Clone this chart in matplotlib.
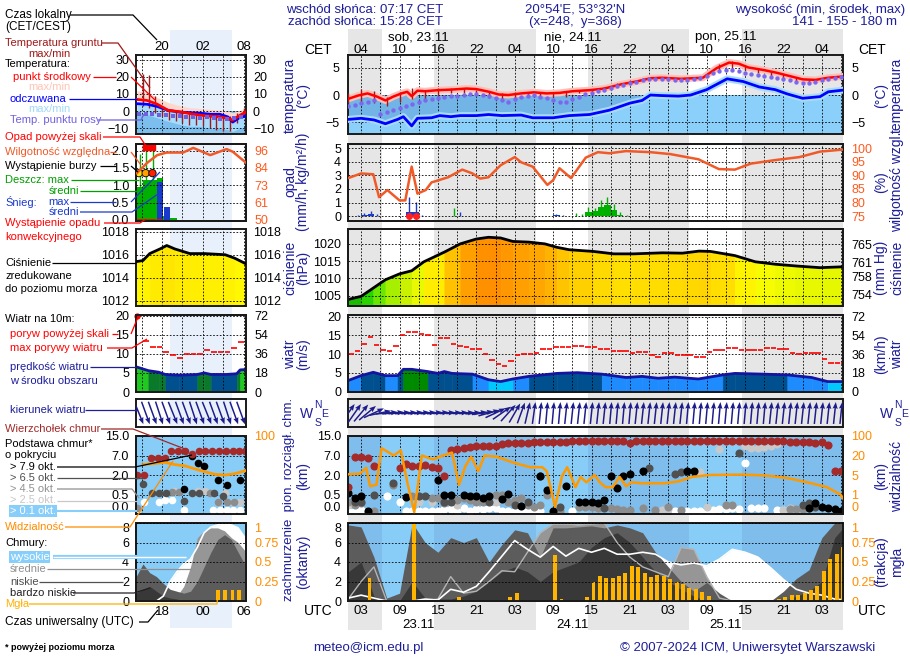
import numpy as np
import matplotlib
matplotlib.use("Agg")
import matplotlib.pyplot as plt
from matplotlib.colors import LinearSegmentedColormap, ListedColormap, BoundaryNorm

plt.rcParams['font.family'] = ['Liberation Sans', 'DejaVu Sans']
plt.rcParams['font.size'] = 9

nan = np.nan
NAVY = '#1e1e9a'

# ==========================================
# DATA - main meteogram (hours since 23.11 00 UTC)
# ==========================================
hours = np.arange(1, 79)

temp_t = [1, 2.5, 4, 5.5, 6.8, 8, 9.3, 10.2, 10.9, 11.8, 13, 15, 17, 19.5, 21, 23, 24.5, 26, 28, 30,
          32, 34, 36, 38.7, 41, 43.7, 46, 48.2, 50, 53, 56.4, 58.6, 60.5, 62, 63.5, 66, 68, 70, 72, 74, 76, 79]
temp_v = [-0.7, -0.1, 0.3, -0.3, -1.0, -0.3, 0.3, 0.6, -0.2, 0.8, 0.7, 0.9, 1.0, 1.2, 1.1, 0.6, 0.1, 0.0, 0.3, 0.5,
          0.3, 0.4, 0.7, 0.9, 1.2, 2.0, 2.5, 3.1, 3.2, 3.0, 3.2, 5.0, 6.0, 5.8, 5.1, 4.6, 4.1, 3.5, 2.9, 2.8, 3.2, 3.5]

perc_t = [1, 3, 5, 6.8, 8.7, 9.6, 10.9, 11.8, 14, 15.3, 17, 18.5, 21, 22.9, 25, 28, 29.8, 33, 35.5, 38.7,
          41.8, 45, 46.9, 48.2, 50, 52.6, 54.5, 57, 60.2, 62.7, 65.2, 67.7, 69.6, 72, 74.7, 76, 79]
perc_v = [-4.5, -4.3, -4.6, -5.3, -4.5, -4.0, -5.7, -4.3, -4.2, -3.8, -4.0, -3.8, -3.8, -3.6, -3.8, -3.7, -4.2, -4.2, -3.8, -3.6,
          -2.8, -1.5, -1.0, 0.0, -0.1, -0.2, 0.0, 1.0, 3.0, 2.5, 1.5, 1.0, 0.2, -0.6, -0.3, 0.6, 1.0]

dew = [-2.1, -1.8, -1.5, -1.2, -1.0, -3.5, -3.2, -2.8, -2.4, -2.0,
       -1.6, -1.2, -0.9, -0.7, -0.5, -0.3, -0.2, -0.1, 0.0, 0.1,
       0.1, 0.0, -0.2, -0.5, -1.0, -1.2, -0.8, -0.4, -0.2, 0.0,
       -0.3, -0.6, -1.0, -1.3, -1.2, -0.8, -0.3, 0.1, 0.4, 0.7,
       1.0, 1.3, 1.6, 1.9, 2.2, 2.5, 2.7, 2.9, 3.0, 3.0,
       2.9, 2.8, 2.8, 2.8, 2.9, 3.1, 3.5, 4.0, 4.5, 4.7,
       4.6, 4.4, 4.1, 3.9, 3.7, 3.5, 3.3, 3.1, 2.9, 2.7,
       2.5, 2.3, 2.3, 2.5, 2.8, 3.0, 3.2, 3.4]

gt_t = np.arange(1, 79, 2)
gt_max = [0.3, 1.2, 0.8, -0.3, 0.5, 1.3, 1.0, 1.3, 1.3, 1.2, 1.0, 0.6, 0.3, 0.5, 0.6, 0.6, 0.5, 0.6, 0.9, 1.0,
          1.5, 2.2, 2.8, 3.2, 3.2, 3.0, 3.0, 3.1, 3.8, 5.8, 6.2, 5.6, 5.0, 4.4, 3.8, 3.2, 2.8, 3.0, 3.5]
gt_min = [-1.5, -1.2, -1.5, -2.0, -1.2, -0.8, -1.0, -0.3, 0.3, 0.3, 0.2, -0.5, -0.8, -0.5, -0.2, -0.2, -0.4, -0.3, 0.3, 0.5,
          1.0, 1.7, 2.4, 2.7, 2.7, 2.6, 2.7, 2.8, 3.4, 4.4, 5.0, 4.6, 4.0, 3.6, 3.0, 2.4, 2.2, 2.6, 3.0]

rh_t = [1, 3, 4.9, 5.8, 7.1, 9, 9.9, 10.9, 11.8, 13.1, 14, 16.6, 18.8, 20.4, 21.6, 22.9, 24.8, 27, 28, 29.8,
        32.1, 33, 34, 35.8, 38.1, 40, 41.8, 44.4, 48.2, 51.3, 55.7, 58.9, 61.4, 63.9, 67.7, 71.5, 74.7, 79]
rh_v = [89, 90.7, 90.4, 82, 84.6, 80.8, 80.8, 93.2, 83.3, 84.6, 87.4, 89.3, 92.1, 90.7, 88.8, 89.3, 93.7, 96.7, 94.8, 93.2,
        86.5, 88.2, 92.6, 89, 96.5, 98.5, 98.1, 98.9, 98.5, 97.8, 95.9, 92.3, 92.1, 94.3, 95.6, 96.7, 98.7, 99.6]

rain_h = np.array([17, 36, 37, 38, 39, 40, 41, 42, 43, 44])
rain_mean = [0.03, 0.02, 0.05, 0.3, 0.35, 0.65, 0.8, 0.45, 0.1, 0.03]
rain_max = [0.6, 0.25, 0.15, 0.7, 0.6, 1.2, 1.4, 0.9, 0.3, 0.1]
snow_h = np.array([2, 3, 4, 5, 10, 11, 12, 18, 33, 34])
snow_mean = [0.05, 0.1, 0.15, 0.05, 0.3, 0.3, 0.05, 0.05, 0.1, 0.05]
snow_max = [0.1, 0.25, 0.4, 0.2, 1.4, 1.05, 0.1, 0.3, 0.15, 0.1]
conv_h = np.array([10, 11])

p_t = [1, 3, 4.9, 6.8, 9, 10.9, 12.8, 16, 18.5, 21, 22.9, 24.8, 26.7, 29.2, 31.7, 33.6, 35.5, 39.3, 42.5, 45.6,
       50.1, 53.2, 55.8, 57.6, 61.4, 64.6, 67.7, 70.9, 74.7, 79]
p_v = [1003.9, 1004.8, 1007.2, 1009.6, 1011.3, 1012.2, 1014.8, 1017.6, 1020, 1021.4, 1021.9, 1021.7, 1020.7, 1020.5,
       1020, 1019, 1018.3, 1017.8, 1017.1, 1017.1, 1017.4, 1017.3, 1017.9, 1017.8, 1016.6, 1014.8, 1014.1, 1013.6,
       1013.1, 1013.4]

w_t = [1, 3, 4.9, 6.8, 8.7, 9.6, 10.9, 13.4, 15, 16, 17.2, 20.4, 22.9, 24.8, 26.7, 29.2, 33.6, 36.8, 40.6, 44.4,
       46.9, 49.4, 52, 55.7, 59.5, 61.4, 65.9, 69.6, 73.4, 75.9, 79]
w_v = [2.9, 4.2, 5.1, 4.2, 4.2, 5.9, 5.9, 5.3, 4.8, 5.3, 4.8, 4.6, 3.1, 2.6, 3.3, 4.0, 4.8, 5.0, 4.6, 3.7,
       4.0, 3.5, 3.8, 3.3, 4.4, 4.8, 4.6, 4.4, 3.7, 2.6, 2.6]
gust = [10.0, 10.7, 12.6, 14.5, 12.4, 11.2, 10.8, 12.2, 15.0, 16.0,
        15.8, 15.4, 15.0, 12.5, 14.3, 14.3, 12.8, 12.3, 11.9, 11.3,
        11.3, 10.0, 8.4, 7.3, 6.8, 8.1, 9.7, 10.0, 10.0, 10.4,
        11.3, 11.3, 12.0, 12.0, 11.9, 12.3, 12.3, 11.9, 11.9, 11.3,
        11.3, 10.8, 10.8, 10.8, 10.2, 10.6, 10.6, 9.7, 9.3, 10.2,
        10.2, 9.7, 9.7, 9.7, 9.3, 9.3, 10.6, 11.0, 11.2, 11.7,
        11.5, 11.0, 11.2, 11.2, 11.2, 11.6, 11.6, 11.3, 11.3, 10.4,
        10.0, 10.2, 10.2, 10.2, 8.8, 7.6, 7.5, 7.5]
wdir = [215, 215, 220, 230, 245, 258, 265, 265, 266, 266,
        266, 266, 266, 266, 266, 267, 267, 267, 267, 267,
        265, 262, 255, 245, 235, 222, 210, 200, 193, 188,
        186, 185, 185, 185, 186, 186, 186, 186, 186, 186,
        186, 185, 185, 185, 185, 186, 186, 186, 186, 186,
        186, 186, 186, 185, 185, 185, 185, 185, 185, 185,
        185, 185, 185, 185, 185, 185, 186, 186, 186, 186,
        186, 186, 186, 186, 186, 186, 186, 186]

cb_top = [1.1, 6.6, 6.5, 6.3, 4.2, nan, nan, nan, 3.9, 4.9,
          4.3, 4.3, 4.6, 4.1, 3.9, 1.9, 9.3, 9.6, 10.0, 10.3,
          11.0, 11.0, 11.0, 11.0, 11.7, 12.0, 12.0, 12.0, 12.0, 12.4,
          12.4, 12.4, 12.4, 12.4, 12.4, 12.8, 12.8, 12.8, 12.8, 12.8,
          12.8, 12.8, 12.8, 12.8, 12.0, 12.8, 12.8, 12.8, 12.8, 12.8,
          12.8, 12.8, 12.8, 12.8, 12.8, 12.8, 12.8, 12.8, 12.8, 12.8,
          12.8, 12.8, 12.8, 12.8, 12.8, 12.8, 12.8, 12.8, 12.8, 12.4,
          12.4, 12.4, 12.4, 12.0, 12.4, 11.5, 3.0, 3.0]
cb_black = [0.6, 0.42, 0.45, 0.08, nan, nan, nan, nan, nan, 0.44,
            nan, nan, nan, nan, 1.65, 0.5, 0.5, nan, 0.5, 0.45,
            0.45, 0.41, 0.45, nan, 0.38, 0.55, nan, 0.2, nan, nan,
            1.9, 0.87, 0.08, nan, 1.13, nan, 0.32, 0.32, 0.32, 0.28,
            0.36, 1.9, 1.0, 1.9, 2.3, nan, 3.0, nan, nan, nan,
            nan, nan, nan, 3.0, 3.0, nan, nan, nan, nan, nan,
            nan, nan, nan, nan, nan, nan, nan, nan, nan, nan,
            nan, nan, 0.16, 0.28, 0.19, 0.16, 0.13, 0.08]
cb_dgray = [nan, 0.32, 0.32, nan, 0.5, nan, nan, 1.4, nan, nan,
            nan, 0.45, 0.45, nan, nan, 0.32, 0.32, nan, nan, nan,
            nan, nan, 0.32, nan, nan, nan, 0.23, nan, 0.32, nan,
            1.9, nan, nan, 0.19, nan, nan, nan, nan, nan, nan,
            0.16, nan, nan, nan, nan, nan, nan, 3.7, nan, nan,
            nan, 2.3, 2.8, nan, nan, nan, nan, nan, nan, nan,
            nan, 8.2, nan, nan, nan, nan, nan, nan, nan, nan,
            nan, 0.23, 0.28, 0.19, nan, nan, nan, nan]
cb_gray = [0.32, 0.23, 0.28, nan, 0.08, nan, nan, 1.25, nan, nan,
           0.45, nan, nan, 0.41, 0.41, 0.28, nan, 0.36, 0.41, 0.36,
           0.32, 0.32, nan, 0.5, 0.5, 0.32, 0.36, 0.41, 0.23, 0.19,
           0.23, 0.5, nan, 0.08, nan, nan, 0.19, 0.19, 0.19, 0.16,
           nan, 0.16, 0.13, 0.1, 0.1, nan, 0.16, nan, 0.1, nan,
           0.19, nan, 0.1, nan, nan, nan, nan, nan, nan, 0.23,
           0.23, nan, nan, nan, nan, nan, nan, nan, nan, 0.13,
           0.13, 0.13, 0.16, nan, nan, nan, nan, nan]
cb_lgray = [0.23, nan, nan, nan, nan, nan, nan, nan, nan, nan,
            nan, 0.32, nan, 0.32, nan, nan, nan, 0.23, nan, nan,
            nan, nan, nan, 0.32, nan, nan, 0.28, nan, nan, nan,
            nan, nan, nan, nan, nan, nan, nan, nan, nan, nan,
            nan, nan, nan, nan, nan, nan, nan, nan, nan, 0.1,
            0.13, nan, nan, nan, nan, 2.8, 0.19, nan, 9.6, nan,
            nan, nan, 11.0, 10.0, 10.0, 10.5, 11.0, 11.7, 0.1, 0.16,
            0.13, nan, nan, nan, nan, nan, nan, nan]
cb_white = [0.08, 0.08, 0.1, nan, nan, nan, 0.45, nan, 0.32, 0.08,
            0.08, 0.08, 0.08, 0.08, 0.08, 0.13, 0.13, 0.08, 0.16, 0.08,
            0.13, 0.13, 0.16, 0.16, 0.08, 0.08, 0.08, 0.08, 0.08, 0.08,
            0.08, nan, nan, nan, nan, 0.08, nan, nan, nan, nan,
            nan, nan, nan, nan, nan, nan, nan, nan, nan, nan,
            nan, 0.08, nan, 0.08, 0.08, 0.08, 0.08, 0.1, 0.13, 0.13,
            0.16, 0.13, 5.2, 0.16, 0.16, 0.16, nan, 0.1, 0.1, nan,
            nan, nan, nan, nan, nan, nan, nan, nan]

vis_t = [1, 2.8, 3.8, 4.4, 5.4, 6.2, 8.1, 9.2, 10.3, 11.3, 12.5, 14.2, 15.8, 17.2, 18.3, 19.3, 20.2, 21.3, 22.3, 24.2,
         26.8, 29.4, 31.3, 32.0, 33.3, 34.4, 35.2, 36.5, 37.3, 38.2, 39.5, 40.3, 41.2, 42.3, 43.4, 44.4, 45.2, 46.8,
         50.5, 52.6, 54.7, 57.4, 62.6, 66.3, 69.5, 72.7, 75.8, 77.9, 79]
vis_v = [5.5, 6, 10.5, 2.7, 3, 50, 20, 41, 3, 0.1, 20, 17, 20, 32, 3, 12, 19, 8, 20, 19,
         14.5, 11, 11, 8, 0.37, 4.8, 11, 2.5, 4.6, 3.5, 5, 3.5, 2.5, 2.5, 4.6, 2.7, 3.5, 3.3,
         3.3, 3.7, 4.6, 5.0, 5.3, 4.9, 4.4, 3.5, 2.5, 1.0, 0.47]

cl_t = np.arange(1, 80, 2)
cl_high = [0.3, 0.6, 0.3, 0, 0, 0, 0.2, 0.1, 1.2, 0.9, 1.5, 3.0, 4.6, 6.2, 5.3, 4.5, 5.6, 4.6, 5.4, 5.0,
           5.4, 4.8, 4.8, 5.0, 4.8, 4.0, 3.7, 3.9, 3.6, 4.3, 5.3, 5.0, 4.5, 3.4, 2.2, 1.2, 0.8, 0.6, 0.2, 0.1]
cl_mid = [0.2, 2.0, 3.5, 0, 0, 0, 0, 0.2, 2.5, 0.8, 1.0, 2.0, 3.1, 3.0, 5.0, 7.0, 7.9, 7.9, 7.8, 7.9,
          8.0, 6.0, 4.5, 3.5, 3.0, 2.5, 5.5, 5.3, 2.5, 0.3, 0, 0, 0, 0, 0, 0, 0, 0, 0, 0]
cl_low = [7.8, 7.6, 4.5, 0.3, 0.8, 8.0, 6.0, 5.0, 6.5, 6.0, 6.5, 4.0, 5.8, 7.3, 7.0, 4.5, 7.5, 7.5, 7.6, 7.7,
          7.5, 7.8, 7.5, 7.0, 5.0, 3.5, 2.0, 1.0, 1.9, 0.8, 0, 0, 0, 0, 1.0, 2.3, 3.2, 6.5, 8.0, 8.0]
cl_vlow = [3.0, 4.0, 0.5, 0, 0, 2.0, 0.3, 0.2, 0.2, 0.5, 1.0, 2.0, 3.0, 3.5, 3.0, 2.0, 3.0, 3.5, 4.0, 5.5,
           6.5, 7.0, 6.0, 4.5, 3.0, 2.0, 1.2, 0.5, 0, 0, 0, 0, 0, 0, 0, 0.5, 1.0, 2.0, 6.5, 8.0]
fog = [0, 0, 0, 0.3, 0, 0, 0, 0, 0, 0,
       1.0, 0, 0, 0, 0, 0, 0, 0.05, 0, 0,
       0, 0, 0, 0, 0, 0.05, 0.1, 0, 0, 0,
       0, 0, 0.59, 0.02, 0, 0, 0, 0.05, 0.25, 0.32,
       0.3, 0.3, 0.32, 0.36, 0.45, 0.43, 0.36, 0.31, 0.33, 0.32,
       0.28, 0.24, 0.22, 0.17, 0.15, 0.11, 0.06, 0, 0, 0,
       0, 0, 0, 0, 0, 0, 0, 0.03, 0.05, 0.08,
       0.08, 0.1, 0.14, 0.19, 0.39, 0.54, 0.6, 0.69]

# ==========================================
# DATA - legend mini meteogram (local hours)
# ==========================================
mini_t = [16.3, 17.8, 19.3, 20.9, 22.7, 24.1, 25.6, 27.1, 28.5, 29.7, 30.4, 31.5, 32.4]
mini_temp = [6.8, 6.2, 4.0, 0.4, -0.5, -1.5, -2.4, -3.0, -3.4, -4.3, -5.4, -2.4, -0.5]
mini_tmax = [12, 11, 8, 5, 3, 2, 1.5, 1, 0.5, 0, -1, 0.5, 1.5]
mini_perc = [4.3, 4.0, 2.7, 0.4, -0.7, -1.0, -1.3, -1.9, -1.9, -3.5, -6.5, -3.6, -3.0]
mini_pmin = [-1, -2, -4, -6, -8, -9, -9, -10, -10, -11, -12, -10, -9]
mini_dew_h = [16.6, 17.6, 18.6, 19.6, 20.6, 21.6, 22.6, 23.6, 24.6, 25.6, 26.6, 27.6, 28.6, 29.6, 30.6, 31.6]
mini_dew = [-1.9, -1.9, -2.0, -2.4, -2.6, -3.0, -3.2, -3.3, -3.6, -4.0, -3.8, -4.2, -4.4, -4.6, -4.0, -3.5]
mini_gt_h = [17.2, 18.1, 19.0, 20.0, 21.0, 22.0, 23.0, 24.0, 25.0, 26.0, 27.0, 28.0, 29.0, 30.0, 31.0, 32.0]
mini_gt_max = [22, 21, 9, 3, 1, 0.5, 0.5, 0, 0, -0.5, -1, -1.5, -2, -3, -1, 2]
mini_gt_min = [3, 2, -1, -3, -5, -6, -7, -8, -8, -9, -10, -11, -12, -12, -7, -3]

mini_rh_t = [16.3, 17.8, 19.3, 20.7, 23.1, 24.6, 27.1, 29.5, 30.4, 32.4]
mini_rh = [81, 87.8, 93, 94.7, 94.7, 97.8, 93, 97, 95.3, 87.8]
mini_rain_h = [16.2, 17.2, 18.2, 19.2, 20.2, 21.2]
mini_rain = [0.95, 1.15, 1.15, 1.2, 0.1, 0.05]
mini_rmax_h = [16.7, 17.7, 18.7]
mini_rmax = [1.9, 2.1, 2.1]
mini_snow_h = [19.3, 20.3]
mini_snow = [1.1, 0.37]
mini_storm_h = [16.6, 17.6, 18.6]
mini_storm_lvl = [1, 2, 3]
mini_over_h = [17.6, 18.6]
mini_conv_h = [16.6, 17.6, 18.6, 19.6]

mini_p_t = [16.2, 17.2, 18.2, 19.7, 20.7, 21.9, 24.1, 26.3, 29.3, 30.7, 32.4]
mini_p = [1015.4, 1015.5, 1016.1, 1016.5, 1016.8, 1016.5, 1016.1, 1016.1, 1016.0, 1015.7, 1015.2]

mini_w_t = [16.2, 18.0, 19.5, 20.5, 22.5, 25.2, 26.2, 27.2, 29.5, 31.0, 31.5, 32.4]
mini_w = [6.6, 5.6, 5.2, 4.6, 4.4, 4.6, 5.0, 4.6, 4.6, 4.8, 5.8, 5.9]
mini_gust_h = [17.2, 18.2, 19.2, 20.2, 21.2, 22.2, 23.2, 24.2, 25.2, 26.2, 27.2, 28.2, 29.2, 30.2, 31.2]
mini_gust = [13.5, 11.8, 11.8, 10.5, 9.6, 8.8, 10.1, 10.1, 10.1, 10.9, 10.5, 10.5, 10.5, 11.5, 13.0]
mini_gust_over = [16.4]
mini_dir_h = [16.6, 17.6, 18.6, 19.6, 20.6, 21.6, 22.6, 23.6, 24.6, 25.6, 26.6, 27.6, 28.6, 29.6, 30.6, 31.6]
mini_dir = [338, 340, 340, 342, 340, 338, 340, 340, 342, 340, 338, 340, 340, 342, 340, 340]

mini_top_h = [16.4, 17.4, 18.4, 19.4, 20.4, 21.4, 22.4, 23.4, 24.4, 25.4, 26.4, 27.4, 28.4, 29.4, 30.4, 31.4, 32.2]
mini_top = [2.0, 2.0, 6.3, 6.3, 6.3, 8.9, 8.9, 8.9, 7.5, 8.9, 8.9, 8.9, 8.9, 8.9, 8.9, 8.9, 8.9]
mini_black_h = [23.2, 24.4, 25.3, 26.2, 28.3, 29.6, 31.5]
mini_black = [0.9, 6.9, 5.0, 4.2, 1.6, 1.2, 1.6]
mini_dgray_h = [17.2, 18.5, 19.5, 20.6, 23.2, 24.4, 25.4, 27.6, 29.0]
mini_dgray = [1.3, 0.6, 0.6, 0.6, 0.34, 0.62, 0.62, 0.6, 0.45]
mini_gray_h = [16.4, 21.5, 22.5, 27.0, 28.3, 29.6, 30.6]
mini_gray = [0.15, 0.7, 0.7, 0.65, 0.3, 0.3, 0.3]
mini_lgray_h = [21.8, 25.3, 26.3, 28.3, 29.3, 30.5, 31.5]
mini_lgray = [0.75, 0.75, 0.75, 0.3, 0.6, 0.3, 0.3]
mini_white_h = [16.4, 17.3, 19.5, 20.5, 21.5, 23.2, 27.5, 28.5, 29.5, 30.5, 31.5]
mini_white = [0.1, 0.3, 0.3, 0.35, 0.35, 0.1, 0.1, 0.1, 0.1, 0.1, 0.1]
mini_vis_t = [17.2, 20.4, 21.9, 23.4, 25.6, 27.8, 29.3, 30.7, 32.4]
mini_vis = [13, 14.7, 13, 12, 8.5, 5.5, 5, 6, 8.5]

mini_cl_h = [16.2, 17.2, 18.2, 19.2, 20.2, 21.2, 22.2, 23.2, 24.2, 25.2, 26.2, 27.2, 28.2, 29.2, 30.2, 31.2, 32.4]
mini_high = [0, 0, 0, 0, 0.5, 2.0, 3.0, 3.8, 4.3, 5.5, 7.0, 7.6, 7.8, 7.9, 7.8, 7.5, 6.3]
mini_mid = [0, 0, 0, 0, 0, 0, 0.5, 1.5, 3.5, 6.5, 7.2, 7.5, 7.5, 7.2, 6.5, 6.0, 5.0]
mini_low = [2.5, 3.8, 2.9, 2.5, 1.8, 1.2, 1.0, 0.8, 1.0, 2.0, 3.5, 5.0, 6.3, 6.8, 6.3, 5.0, 3.5]
mini_vlow = [0.8, 1.2, 1.5, 1.0, 0.5, 0.3, 0.2, 0, 0, 0, 0, 0, 0, 0, 0, 0, 0]
mini_fog_h = [28.0, 29.0, 30.1, 31.1]
mini_fog = [0.14, 0.14, 0.14, 0.14]

SUNRISE_UTC = 6 + 17 / 60
SUNSET_UTC = 14 + 28 / 60
HPA_PER_MMHG = 1.33322
KMH_PER_MS = 3.6

# ==========================================
# LAYOUT HELPERS
# ==========================================
W, H = 910, 660
fig = plt.figure(figsize=(W / 100, H / 100), dpi=100)

T0, T1 = 0.95, 78.3
M0, M1 = 16.18, 32.36
MAIN_X = (348, 843)
MINI_X = (136, 246)
ROWS = {'temp': (55, 134), 'prec': (144, 221), 'pres': (229, 306), 'wind': (315, 392),
        'dir': (399, 427), 'cbase': (436, 514), 'cloud': (523, 601)}
main_grid = np.arange(3, 79, 3)
mini_grid = np.arange(17, 33, 3)


def px_axes(x0, y0, x1, y1, **kw):
    return fig.add_axes([x0 / W, 1 - y1 / H, (x1 - x0) / W, (y1 - y0) / H], **kw)


def frame(ax):
    for s in ax.spines.values():
        s.set_linewidth(1.4)
        s.set_color('#1a1a1a')


def panel(xpx, row, xlim, gticks, face=None, grid=True):
    y0, y1 = ROWS[row]
    ax = px_axes(xpx[0], y0, xpx[1], y1)
    ax.set_xlim(*xlim)
    if face is None:
        ax.patch.set_visible(False)
    else:
        ax.set_facecolor(face)
    ax.set_xticks(gticks)
    ax.tick_params(axis='both', length=0, labelbottom=False, labelsize=9, pad=5)
    if grid:
        ax.grid(True, color='black', lw=0.6, ls=(0, (2, 2)))
        ax.set_axisbelow(False)
    frame(ax)
    return ax


def twin(ax, ylim, ticks, labels, color='black', scale=None):
    tw = ax.twinx()
    if scale is not None:
        tw.set_yscale('function', functions=scale)
    tw.set_ylim(*ylim)
    tw.set_yticks(ticks, labels)
    tw.tick_params(length=0, labelsize=9, pad=6, labelcolor=color)
    frame(tw)
    return tw


def edge_labels(ax, bottom=False, top=False):
    # keep edge tick labels inside their own panel so neighbours do not collide
    ticks = ax.yaxis.get_major_ticks()
    if bottom:
        for lab in (ticks[0].label1, ticks[0].label2):
            lab.set_verticalalignment('bottom')
    if top:
        for lab in (ticks[-1].label1, ticks[-1].label2):
            lab.set_verticalalignment('top')


def colour_fill(ax, tt, vv, base, cmap, norm):
    for i in range(len(tt) - 1):
        c = cmap(norm((vv[i] + vv[i + 1]) / 2))
        ax.fill_between(tt[i:i + 2], base, vv[i:i + 2], facecolor=c, edgecolor=c, lw=0.4, zorder=1)


def piecewise(xs, ys):
    return (lambda v: np.interp(v, xs, ys), lambda v: np.interp(v, ys, xs))


cb_scale = piecewise([0, 0.5, 2, 7, 15], [0, 1, 2, 3, 4])
vis_scale = piecewise([0, 1, 5, 20, 100], [0, 1, 2, 3, 4])

p_anchor = [(1002, '#089808'), (1006, '#2ad400'), (1009, '#7cec00'), (1012, '#d2f200'),
            (1015, '#ffff00'), (1018, '#ffd200'), (1020, '#ffaa00'), (1022, '#ff8c00')]
p_cmap = LinearSegmentedColormap.from_list('pres', [((v - 1002) / 20, c) for v, c in p_anchor])
p_norm = plt.Normalize(1002, 1022)
w_cmap = ListedColormap(['#00c8ff', '#1e8cff', '#00508f', '#008a00'])
w_norm = BoundaryNorm([0, 3, 4.3, 5.5, 50], 4)
mw_cmap = ListedColormap(['#00508f', '#0a7a2a', '#22c822'])
mw_norm = BoundaryNorm([0, 4.75, 5.7, 50], 3)
storm_cmap = ListedColormap(['#ffe000', '#ffa000', '#ff2000'])

nights = []
for d in range(4):
    a, b = (d - 1) * 24 + SUNSET_UTC, d * 24 + SUNRISE_UTC
    nights.append((max(a, T0), min(b, T1)))

# ==========================================
# BACKGROUND COLUMNS
# ==========================================
bg = px_axes(MAIN_X[0], 29, MAIN_X[1], 630)
bg.set_xlim(T0, T1)
bg.set_ylim(630, 29)
bg.axis('off')
for a, b in nights:
    bg.axvspan(a, b, color='#e6e6e6', lw=0)
for t in np.arange(3, 79, 6):
    bg.text(t, 50, f"{int(t + 1) % 24:02d}", ha='center', va='center', fontsize=9.5)
    bg.text(t, 611, f"{int(t) % 24:02d}", ha='center', va='center', fontsize=9.5)
for t, lab_top, lab_bot in [(12, 'sob, 23.11', '23.11'), (36, 'nie, 24.11', '24.11'), (60, 'pon, 25.11', '25.11')]:
    bg.text(t, 37, lab_top, ha='center', va='center', fontsize=9.5)
    bg.text(t, 625, lab_bot, ha='center', va='center', fontsize=9.5)

mbg = px_axes(MINI_X[0], 30, MINI_X[1], 628)
mbg.set_xlim(M0, M1)
mbg.set_ylim(628, 30)
mbg.axis('off')
mbg.axvspan(21.2, 30.3, color='#e8f0fc', lw=0)
for h, top_lab, bot_lab in [(20, '20', '18'), (26, '02', '00'), (32, '08', '06')]:
    mbg.text(h, 47, top_lab, ha='center', va='center', fontsize=9.5)
    mbg.text(h, 612, bot_lab, ha='center', va='center', fontsize=9.5)

# ==========================================
# MAIN PANELS
# ==========================================
# temperature
ax = panel(MAIN_X, 'temp', (T0, T1), main_grid)
ax.axhspan(-7.2, 0, color='#8ad0fa', lw=0, zorder=0.5)
perc_arr = np.array(perc_v)
ax.fill_between(perc_t, perc_v, 0, where=perc_arr < 0, interpolate=True, color='#72b4e6', lw=0, zorder=0.6)
ax.plot(perc_t, perc_v, color='#a8dcff', lw=5, zorder=2.6)
ax.plot(perc_t, perc_v, color='#0000ff', lw=2, zorder=3)
ax.plot(temp_t, temp_v, color='#ffc0b8', lw=5, zorder=2.7)
ax.vlines(gt_t, gt_min, gt_max, color='#a01818', lw=1, zorder=3.1)
ax.plot(temp_t, temp_v, color='#ff0000', lw=1.8, zorder=3.2)
ax.scatter(hours, dew, s=10, color='#7b68ee', lw=0, zorder=3.3)
ax.set_ylim(-7.2, 7.4)
ax.set_yticks([-5, 0, 5])
ax.tick_params(labelright=True, pad=6)

# precipitation + humidity
ax = panel(MAIN_X, 'prec', (T0, T1), main_grid)
ax.bar(rain_h, rain_mean, width=1, align='edge', color='#00b000', lw=0, zorder=2)
ax.vlines(rain_h + 0.5, 0, rain_max, color='#00b000', lw=1, zorder=2)
ax.bar(snow_h, snow_mean, width=1, align='edge', color='#1a3acc', lw=0, zorder=2)
ax.vlines(snow_h + 0.5, 0, snow_max, color='#1a3acc', lw=1, zorder=2)
ax.scatter(conv_h + 0.5, np.zeros(len(conv_h)), s=16, color='#ff2020', zorder=4, clip_on=False)
ax.set_ylim(-0.35, 5.3)
ax.set_yticks([0, 1, 2, 3, 4, 5])
tw = twin(ax, (73.25, 101.5), [75, 80, 85, 90, 95, 100], ['75', '80', '85', '90', '95', '100'], '#ff5a1e')
tw.plot(rh_t, rh_v, color='#f05a28', lw=1.8, zorder=3)

# pressure
ax = panel(MAIN_X, 'pres', (T0, T1), main_grid)
colour_fill(ax, p_t, p_v, 1002, p_cmap, p_norm)
ax.plot(p_t, p_v, color='black', lw=2, zorder=3)
ax.set_ylim(1002, 1024.3)
ax.set_yticks([1005, 1010, 1015, 1020])
twin(ax, (1002 / HPA_PER_MMHG, 1024.3 / HPA_PER_MMHG), [754, 758, 761, 765], ['754', '758', '761', '765'])

# wind
ax = panel(MAIN_X, 'wind', (T0, T1), main_grid)
colour_fill(ax, w_t, w_v, -0.2, w_cmap, w_norm)
ax.plot(w_t, w_v, color='#1414a0', lw=2, zorder=3)
ax.hlines(gust, hours, hours + 0.85, color='#ff0000', lw=1.2, zorder=3)
ax.set_ylim(-0.2, 20.5)
ax.set_yticks([0, 5, 10, 15, 20])
twin(ax, (-0.2 * KMH_PER_MS, 20.5 * KMH_PER_MS), [0, 18, 36, 54, 72], ['0', '18', '36', '54', '72'])

# wind direction
ax = panel(MAIN_X, 'dir', (T0, T1), main_grid, grid=False)
rad = np.deg2rad(wdir)
ax.quiver(hours, np.full(len(hours), 0.5), -22 * np.sin(rad), -22 * np.cos(rad), angles='uv',
          scale_units='dots', scale=1, units='dots', width=1.5, headwidth=3.5, headlength=4.5,
          headaxislength=4, pivot='middle', color='#1c1c8c', zorder=3)
ax.set_ylim(0, 1)
ax.set_yticks([])

# cloud base / top / visibility
ax = panel(MAIN_X, 'cbase', (T0, T1), main_grid, face='#88cdf8')
ax.set_yscale('function', functions=cb_scale)
for a, b in nights:
    ax.axvspan(a, b, color='#7ebdec', lw=0, zorder=0.5)
for series, col in [(cb_white, '#ffffff'), (cb_lgray, '#c8c8c8'), (cb_gray, '#8c8c8c'),
                    (cb_dgray, '#505050'), (cb_black, '#000000'), (cb_top, '#a52a2a')]:
    arr = np.array(series)
    ok = ~np.isnan(arr)
    ax.scatter(hours[ok], arr[ok], s=34, color=col, lw=0, zorder=3)
ax.set_ylim(0, 15)
ax.set_yticks([0, 0.5, 2, 7, 15], ['0.0', '0.5', '2.0', '7.0', '15.0'])
edge_labels(ax, bottom=True)
tw = twin(ax, (0, 100), [0, 1, 5, 20, 100], ['0', '1', '5', '20', '100'], '#ff8c00', scale=vis_scale)
tw.plot(vis_t, vis_v, color='#ff9900', lw=1.8, zorder=3)
tw.set_ylim(0, 100)
edge_labels(tw, bottom=True)

# cloud cover + fog
ax = panel(MAIN_X, 'cloud', (T0, T1), main_grid, face='#88cdf8', grid=False)
for a, b in nights:
    ax.axvspan(a, b, color='#7ebdec', lw=0, zorder=0.5)
ax.fill_between(cl_t, 0, cl_high, color='#ffffff', lw=0, zorder=1)
ax.fill_between(cl_t, 0, cl_mid, color='#969696', lw=0, zorder=1.1)
ax.fill_between(cl_t, 0, cl_low, color='#5c5c5c', lw=0, zorder=1.2)
ax.fill_between(cl_t, 0, cl_vlow, color='#383838', lw=0, zorder=1.3)
ax.plot(cl_t, cl_mid, color='#b4b4b4', lw=1, zorder=2)
ax.plot(cl_t, cl_high, color='#ffffff', lw=1.2, zorder=2.1)
ax.set_ylim(0, 8)
ax.set_yticks([0, 2, 4, 6, 8])
edge_labels(ax, top=True)
tw = twin(ax, (0, 1), [0, 0.25, 0.5, 0.75, 1], ['0', '0.25', '0.5', '0.75', '1'], '#ff8c00')
tw.bar(hours, fog, width=0.6, align='edge', color='#ffb400', lw=0, zorder=1)
tw.grid(True, color='black', lw=0.6, ls=(0, (2, 2)))
tw.set_axisbelow(False)
edge_labels(tw, top=True)

# ==========================================
# MINI LEGEND PANELS
# ==========================================
ax = panel(MINI_X, 'temp', (M0, M1), mini_grid)
ax.axhspan(-13.5, 0, color='#7cbfee', lw=0, zorder=0.5)
ax.fill_between(mini_t, mini_pmin, mini_perc, color='#a8dcfc', lw=0, zorder=0.6)
ax.fill_between(mini_t, mini_temp, mini_tmax, color='#ffd6cc', lw=0, zorder=0.7)
ax.vlines(mini_gt_h, mini_gt_min, mini_gt_max, color='#a01818', lw=1, zorder=3)
ax.plot(mini_t, mini_perc, color='#0000ff', lw=2, zorder=3.1)
ax.plot(mini_t, mini_temp, color='#ff0000', lw=2, zorder=3.2)
ax.scatter(mini_dew_h, mini_dew, s=9, marker='s', color='#7060e0', lw=0, zorder=3.3)
ax.set_ylim(-13.5, 32.9)
ax.set_yticks([-10, 0, 10, 20, 30])
ax.tick_params(labelright=True, pad=5)

ax = panel(MINI_X, 'prec', (M0, M1), mini_grid)
ax.bar(mini_rain_h, mini_rain, width=1, align='edge', color='#00b000', lw=0, zorder=2)
ax.bar(mini_snow_h, mini_snow, width=0.9, align='edge', color='#1a3acc', lw=0, zorder=2.1)
ax.vlines(mini_rmax_h, 0, mini_rmax, color='#00b000', lw=1, zorder=2.2)
ax.scatter(mini_over_h, np.full(len(mini_over_h), 2.1), s=14, marker='s', color='#ff0000', zorder=4, clip_on=False)
ax.scatter(mini_storm_h, np.full(len(mini_storm_h), 1.35), s=28, c=mini_storm_lvl, cmap=storm_cmap,
           edgecolors='black', lw=0.6, zorder=4)
ax.scatter(mini_conv_h, np.zeros(len(mini_conv_h)), s=20, marker='_', color='#ff0000', lw=2, zorder=4, clip_on=False)
ax.set_ylim(-0.03, 2.19)
ax.set_yticks([0, 0.5, 1, 1.5, 2], ['0.0', '0.5', '1.0', '1.5', '2.0'])
tw = twin(ax, (49.31, 100.37), [50, 61.5, 73, 84.5, 96], ['50', '61', '73', '84', '96'], '#ff5a1e')
tw.plot(mini_rh_t, mini_rh, color='#f05a28', lw=1.8, zorder=3)

ax = panel(MINI_X, 'pres', (M0, M1), mini_grid)
colour_fill(ax, mini_p_t, mini_p, 1011.56, p_cmap, p_norm)
ax.plot(mini_p_t, mini_p, color='black', lw=2, zorder=3)
ax.set_ylim(1011.56, 1018.23)
ax.set_yticks([1012, 1014, 1016, 1018])
ax.tick_params(labelright=True, pad=5)

ax = panel(MINI_X, 'wind', (M0, M1), mini_grid)
colour_fill(ax, mini_w_t, mini_w, 0, mw_cmap, mw_norm)
ax.plot(mini_w_t, mini_w, color='#1414a0', lw=2, zorder=3)
ax.hlines(mini_gust, mini_gust_h, np.array(mini_gust_h) + 0.85, color='#ff0000', lw=1.2, zorder=3)
ax.scatter(mini_gust_over, np.full(len(mini_gust_over), 20), s=12, color='#ff0000', zorder=4, clip_on=False)
ax.set_ylim(0, 20.2)
ax.set_yticks([0, 5, 10, 15, 20])
twin(ax, (0, 20.2 * KMH_PER_MS), [0, 18, 36, 54, 72], ['0', '18', '36', '54', '72'])

ax = panel(MINI_X, 'dir', (M0, M1), mini_grid, grid=False)
mrad = np.deg2rad(mini_dir)
ax.quiver(mini_dir_h, np.full(len(mini_dir_h), 0.5), -24 * np.sin(mrad), -24 * np.cos(mrad), angles='uv',
          scale_units='dots', scale=1, units='dots', width=1.5, headwidth=3.5, headlength=4.5,
          headaxislength=4, pivot='middle', color='#1c1c8c', zorder=3)
ax.set_ylim(0, 1)
ax.set_yticks([])

ax = panel(MINI_X, 'cbase', (M0, M1), mini_grid, face='#88cdf8')
ax.set_yscale('function', functions=cb_scale)
for hh, vv, col in [(mini_white_h, mini_white, '#ffffff'), (mini_lgray_h, mini_lgray, '#c8c8c8'),
                    (mini_gray_h, mini_gray, '#8c8c8c'), (mini_dgray_h, mini_dgray, '#505050'),
                    (mini_black_h, mini_black, '#000000'), (mini_top_h, mini_top, '#a52a2a')]:
    ax.scatter(hh, vv, s=30, color=col, lw=0, zorder=3)
ax.set_ylim(0, 15)
ax.set_yticks([0, 0.5, 2, 7, 15], ['0.0', '0.5', '2.0', '7.0', '15.0'])
edge_labels(ax, bottom=True)
tw = twin(ax, (0, 100), [100], ['100'], '#ff8c00', scale=vis_scale)
tw.plot(mini_vis_t, mini_vis, color='#ff9900', lw=2, zorder=3)
tw.set_ylim(0, 100)

ax = panel(MINI_X, 'cloud', (M0, M1), mini_grid, face='#88cdf8', grid=False)
ax.fill_between(mini_cl_h, 0, mini_high, color='#ffffff', lw=0, zorder=1)
ax.fill_between(mini_cl_h, 0, mini_mid, color='#969696', lw=0, zorder=1.1)
ax.fill_between(mini_cl_h, 0, mini_low, color='#5c5c5c', lw=0, zorder=1.2)
ax.fill_between(mini_cl_h, 0, mini_vlow, color='#383838', lw=0, zorder=1.3)
ax.plot(mini_cl_h, mini_high, color='#ffffff', lw=1.2, zorder=2)
ax.set_ylim(0, 8)
ax.set_yticks([0, 2, 4, 6, 8])
edge_labels(ax, top=True)
tw = twin(ax, (0, 1), [0, 0.25, 0.5, 0.75, 1], ['0', '0.25', '0.5', '0.75', '1'], '#ff8c00')
tw.bar(mini_fog_h, mini_fog, width=0.55, align='edge', color='#ffb400', lw=0, zorder=1)
tw.grid(True, color='black', lw=0.6, ls=(0, (2, 2)))
tw.set_axisbelow(False)
edge_labels(tw, top=True)

# ==========================================
# OVERLAY: header, axis titles, legend texts
# ==========================================
ov = fig.add_axes([0, 0, 1, 1], zorder=10)
ov.set_xlim(0, W)
ov.set_ylim(H, 0)
ov.axis('off')


def say(x, y, s, color='black', ha='left', size=9, **kw):
    ov.text(x, y, s, color=color, ha=ha, va='center', fontsize=size, **kw)


def lead(xs, ys, color, lw=0.9):
    ov.plot(xs, ys, color=color, lw=lw, solid_capstyle='butt')


say(365, 10, 'wschód słońca: 07:17 CET', NAVY, 'center', 9.5)
say(365, 22, 'zachód słońca: 15:28 CET', NAVY, 'center', 9.5)
say(575, 10, "20°54'E, 53°32'N", NAVY, 'center', 9.5)
say(575, 22, '(x=248,  y=368)', NAVY, 'center', 9.5)
say(905, 10, 'wysokość (min, środek, max)', NAVY, 'right', 9.5)
say(845, 22, '141 - 155 - 180 m', NAVY, 'center', 9.5)
say(318, 50, 'CET', 'black', 'center', 10)
say(872, 50, 'CET', 'black', 'center', 10)
say(318, 611, 'UTC', 'black', 'center', 10)
say(872, 611, 'UTC', 'black', 'center', 10)
say(368, 648, 'meteo@icm.edu.pl', NAVY, 'center', 9.5)
say(748, 648, '© 2007-2024 ICM, Uniwersytet Warszawski', NAVY, 'center', 9.5)
say(5, 648, '* powyżej poziomu morza', 'black', 'left', 6.5, fontweight='bold')

# axis titles
side_titles = [
    (95, 'temperatura', '(°C)', '(°C)', 'temperatura'),
    (182, 'opad', '(mm/h, kg/m²/h)', '(%)', 'wilgotność wzgl.'),
    (268, 'ciśnienie', '(hPa)', '(mm Hg)', 'ciśnienie'),
    (354, 'wiatr', '(m/s)', '(km/h)', 'wiatr'),
    (476, None, '(km)', '(km)', 'widzialność'),
    (562, None, '(oktanty)', '(frakcja)', 'mgła'),
]
for yc, l1, l2, r1, r2 in side_titles:
    if l1:
        ov.text(290, yc, l1, rotation=90, ha='center', va='center', color=NAVY, fontsize=10)
    ov.text(303, yc, l2, rotation=90, ha='center', va='center', color=NAVY, fontsize=10)
    ov.text(881, yc, r1, rotation=90, ha='center', va='center', color=NAVY, fontsize=10)
    ov.text(897, yc, r2, rotation=90, ha='center', va='center', color=NAVY, fontsize=10)
ov.text(289, 601, 'zachmurzenie  pion. rozciągł. chm.', rotation=90, ha='center', va='bottom',
        color=NAVY, fontsize=9.5)
for x0 in (307, 887):
    say(x0, 414, 'W', NAVY, 'center', 10)
    say(x0 + 11, 405, 'N', NAVY, 'center', 7.5)
    say(x0 + 11, 423, 'S', NAVY, 'center', 7.5)
    say(x0 + 18, 414, 'E', NAVY, 'center', 7.5)

# legend texts
DRED = '#a01818'
LEG = 8
say(5, 15, 'Czas lokalny', size=LEG + 0.5)
say(5, 27, '(CET/CEST)', size=LEG + 0.5)
lead([70, 133, 157], [15, 15, 40], 'black')
say(5, 43, 'Temperatura gruntu', DRED, size=LEG)
say(28, 54, 'max/min', DRED, size=LEG)
lead([102, 118, 150], [43, 43, 88], DRED)
say(5, 64, 'Temperatura:', size=LEG)
say(13, 77, 'punkt środkowy', '#ff0000', size=LEG)
lead([93, 116], [77, 77], '#ff0000')
lead([131, 155], [77, 100], '#ff0000')
say(28, 87, 'max/min', '#ffc4b4', size=LEG)
say(10, 99, 'odczuwana', '#0000ff', size=LEG)
lead([69, 137], [99, 99], '#0000ff')
say(28, 109, 'max/min', '#a0d8f8', size=LEG)
say(10, 120, 'Temp. punktu rosy', '#7060e0', size=LEG)
lead([98, 141, 144], [120, 120, 114], '#7060e0')
say(5, 137, 'Opad powyżej skali', '#ff0000', size=LEG)
lead([103, 140, 146], [137, 137, 146], '#ff0000')
say(5, 152, 'Wilgotność względna', '#f05a28', size=LEG)
lead([110, 116], [152, 152], '#f05a28')
lead([131, 141], [152, 165], '#f05a28')
say(5, 166, 'Wystąpienie burzy', size=LEG)
lead([100, 116], [166, 166], 'black')
lead([131, 138], [166, 172], 'black')
say(5, 180, 'Deszcz: max', '#00a000', size=LEG)
lead([71, 139], [180, 180], '#00a000')
say(49, 191, 'średni', '#00a000', size=LEG)
lead([80, 137], [191, 191], '#00a000')
say(5, 202, 'Śnieg:', '#1a3acc', size=LEG)
say(48, 202, 'max', '#1a3acc', size=LEG)
lead([70, 116], [202, 202], '#1a3acc')
lead([131, 160], [202, 172], '#1a3acc')
say(49, 212, 'średni', '#1a3acc', size=LEG)
lead([80, 132, 161], [212, 212, 192], '#1a3acc')
say(5, 223, 'Wystąpienie opadu', '#ff0000', size=LEG)
say(5, 237, 'konwekcyjnego', '#ff0000', size=LEG)
lead([104, 140, 146], [223, 223, 219], '#ff0000')
say(5, 263, 'Ciśnienie', size=LEG)
say(5, 276, 'zredukowane', size=LEG)
say(5, 289, 'do poziomu morza', size=LEG)
lead([52, 136], [263, 263], 'black')
say(5, 319, 'Wiatr na 10m:', size=LEG)
say(10, 334, 'poryw powyżej skali', '#ff0000', size=LEG)
lead([112, 118], [334, 334], '#ff0000')
lead([131, 138], [334, 317], '#ff0000')
say(10, 348, 'max porywy wiatru', '#ff0000', size=LEG)
lead([107, 132, 147], [348, 348, 339], '#ff0000')
say(10, 367, 'prędkość wiatru', NAVY, size=LEG)
say(10, 381, 'w środku obszaru', NAVY, size=LEG)
lead([90, 136], [367, 367], NAVY)
say(10, 410, 'kierunek wiatru', NAVY, size=LEG)
lead([85, 137], [410, 410], NAVY)
say(5, 429, 'Wierzchołek chmur', '#a02828', size=LEG)
lead([101, 133, 185], [429, 429, 449], '#a02828')
say(5, 444, 'Podstawa chmur*', size=LEG)
say(5, 455, 'o pokryciu', size=LEG)
say(10, 467, '> 7.9 okt.', 'black', size=LEG)
lead([57, 135, 192], [467, 467, 455], 'black')
say(10, 478, '> 6.5 okt.', '#505050', size=LEG)
lead([57, 143], [478, 478], '#505050')
say(10, 489, '> 4.5 okt.', '#909090', size=LEG)
lead([57, 132, 139], [489, 489, 498], '#909090')
say(10, 500, '> 2.5 okt.', '#c8c8c8', size=LEG)
lead([57, 137], [501, 501], '#c8c8c8')
say(10, 511, '> 0.1 okt.', 'white', size=LEG,
    bbox=dict(boxstyle='square,pad=0.05', fc='#87cefa', ec='none'))
lead([57, 137], [511, 511], '#87cefa', 1.5)
say(5, 527, 'Widzialność', '#ff8c00', size=LEG)
lead([65, 130, 173], [527, 527, 461], '#ff8c00')
say(5, 543, 'Chmury:', size=LEG)
say(10, 557, 'wysokie', 'white', size=LEG,
    bbox=dict(boxstyle='square,pad=0.05', fc='#87cefa', ec='none'))
lead([53, 186], [557, 557], '#87cefa', 3)
lead([53, 186], [557, 557], 'white', 1)
say(10, 569, 'średnie', '#909090', size=LEG)
lead([47, 192], [569, 569], '#909090')
say(10, 582, 'niskie', '#505050', size=LEG)
lead([39, 123], [582, 582], '#505050')
say(10, 593, 'bardzo niskie', '#202020', size=LEG)
lead([73, 134, 150], [593, 593, 588], '#202020')
say(5, 604, 'Mgła', '#ffb000', size=LEG)
lead([29, 217, 218], [604, 604, 592], '#ffb000')
say(5, 622, 'Czas uniwersalny (UTC)', size=LEG + 0.6)
lead([139, 148, 158], [622, 622, 610], 'black')

fig.savefig('out.png', dpi=100)
